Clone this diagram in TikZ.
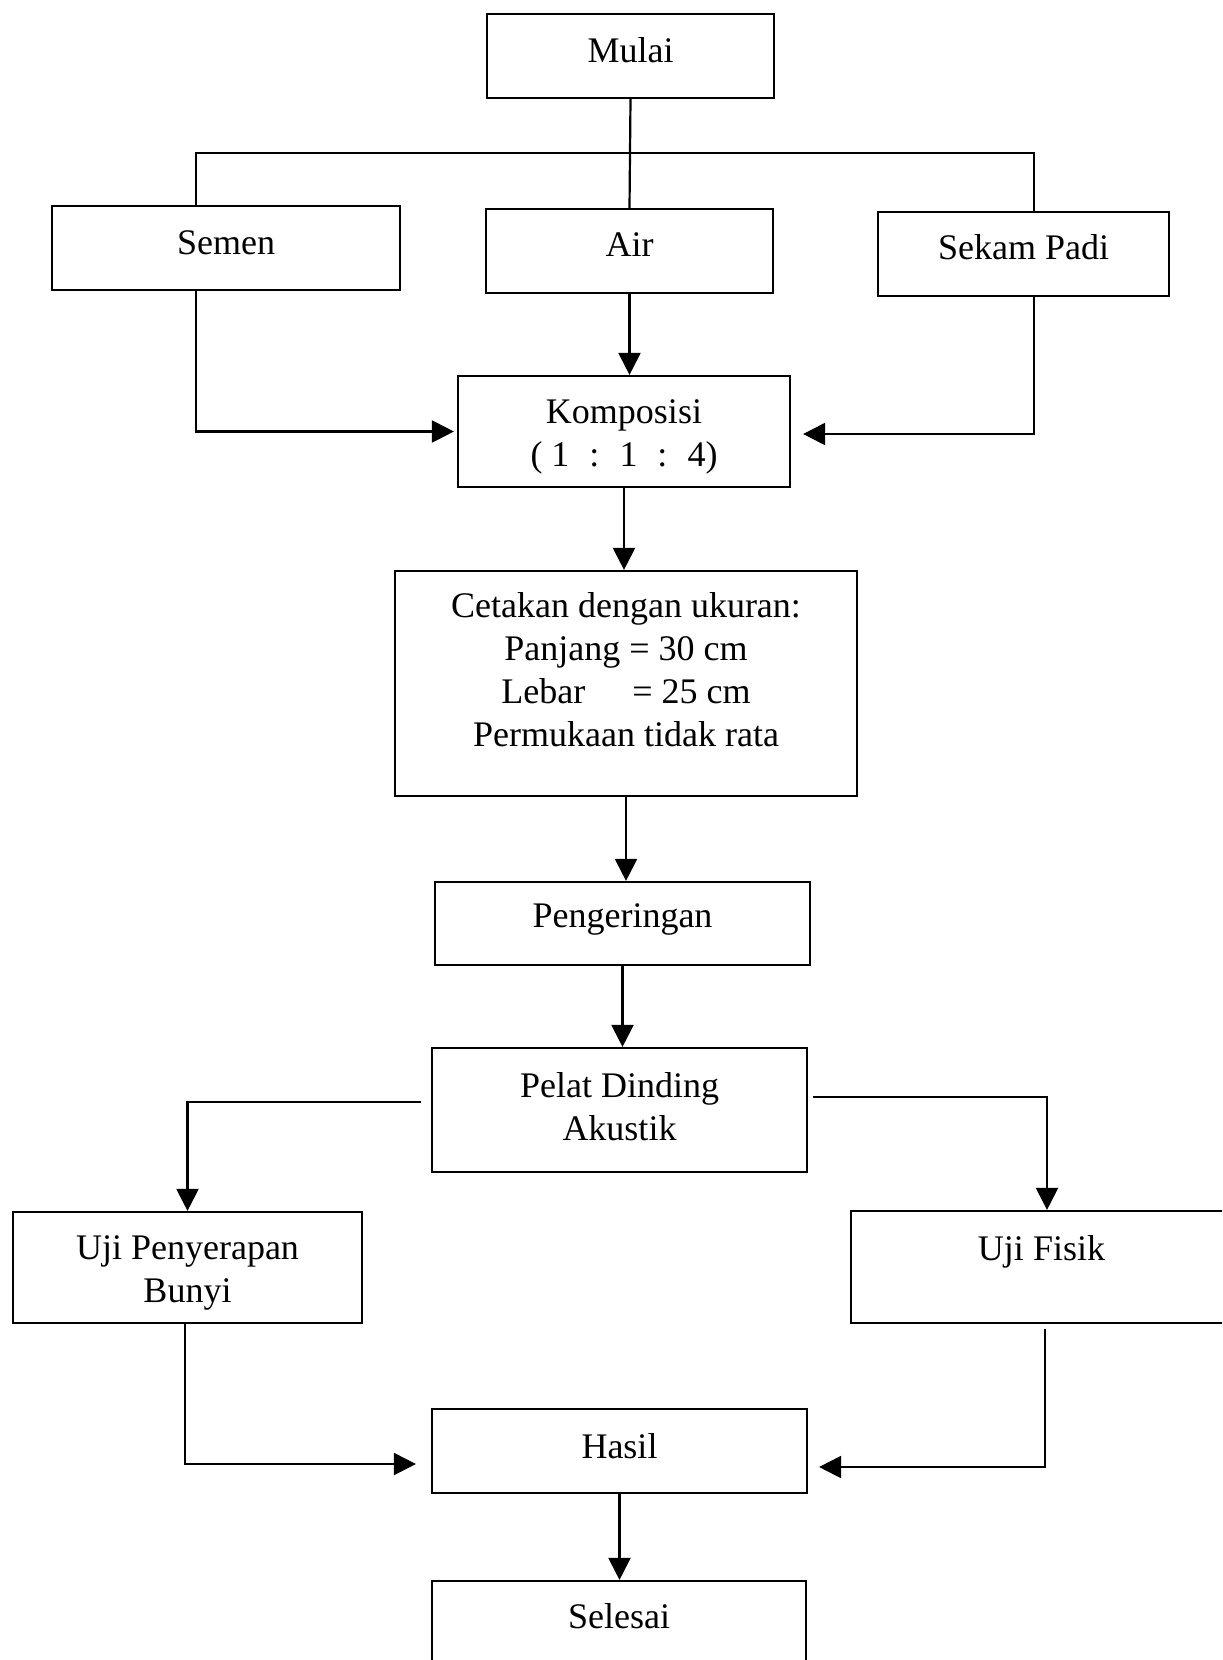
\documentclass[tikz,border=0pt]{standalone}
\usepackage{fontspec}
\setmainfont{Liberation Serif}
\usetikzlibrary{arrows.meta}
\begin{document}
\begin{tikzpicture}[x=0.5pt,y=-0.5pt,
  box/.style={draw, line width=1.1pt, align=center, inner sep=0pt,
    font=\fontsize{18pt}{21.5pt}\selectfont},
  conn/.style={line width=1.1pt},
  arr/.style={line width=1.1pt, -{Triangle[width=11pt,length=11pt]}}]
\useasboundingbox (0,0) rectangle (1222,1660);
\clip (0,0) rectangle (1222,1660);
\fill[white] (0,0) rectangle (1222,1660);

\node[box, minimum width=143.5pt, minimum height=42pt, text depth=6.4pt] (mulai) at (630.5,56) {Mulai};
\node[box, minimum width=174pt, minimum height=42pt, text depth=5.9pt] (semen) at (226,248) {Semen};
\node[box, minimum width=143.5pt, minimum height=42pt, text depth=6pt] (air) at (629.5,251) {Air};
\node[box, minimum width=145.5pt, minimum height=42pt, text depth=7.4pt] (sekam) at (1023.5,254) {Sekam Padi};
\node[box, minimum width=166pt, minimum height=55.5pt] (kompos) at (624,431.5)
  {\mbox{}\\[-4.3pt]Komposisi\\(\hspace{4.5pt}1\hspace{10pt}:\hspace{10pt}1\hspace{10pt}:\hspace{10pt}4)};
\node[box, minimum width=231pt, minimum height=112.5pt] (cetak) at (626,683.5)
  {Cetakan dengan ukuran:\\Panjang = 30 cm\\Lebar\hspace{19pt} = 25 cm\\Permukaan tidak rata\\[-7.5pt]\mbox{}};
\node[box, minimum width=187.5pt, minimum height=41.5pt, text depth=7.7pt] (kering) at (622.5,923.5) {Pengeringan};
\node[box, minimum width=187.5pt, minimum height=62pt] (pelat) at (619.5,1110) {Pelat Dinding\\Akustik\\[-17.8pt]\mbox{}};
\node[box, minimum width=174.5pt, minimum height=55.5pt] (ujip) at (187.5,1267.5) {\mbox{}\\[-3.8pt]Uji Penyerapan\\Bunyi};
\node[box, minimum width=190.5pt, minimum height=56pt, text depth=19.4pt] (ujif) at (1041.5,1267) {Uji Fisik};
\node[box, minimum width=187.5pt, minimum height=42pt, text depth=5.4pt] (hasil) at (619.5,1451) {Hasil};
\node[box, minimum width=187pt, minimum height=42pt, text depth=7.4pt] (selesai) at (619,1623) {Selesai};

% top distribution line
\coordinate (tl) at (196,153);
\coordinate (tr) at (1034,153);
\draw[conn] (mulai.south) -- (air.north);
\draw[conn] (semen.north -| tl) -- (tl) -- (tr) -- (sekam.north -| tr);

% to Komposisi
\draw[arr] (air.south) -- (air.south |- kompos.north);
\draw[arr, shorten >=1.5pt] (semen.south -| tl) |- (kompos.west);
\draw[arr, shorten >=6pt] (sekam.south -| tr) |- ([yshift=-1.25pt]kompos.east);

% main column
\draw[arr] (kompos.south) -- (kompos.south |- cetak.north);
\draw[arr] (cetak.south) -- (cetak.south |- kering.north);
\draw[arr] (kering.south) -- (kering.south |- pelat.north);

% split to tests
\draw[arr] ([shift={(-10,-8)}]pelat.west) -| (ujip.north);
\draw[arr] ([shift={(5,-13)}]pelat.east) -| ([xshift=2.75pt]ujif.north);

% tests to Hasil
\draw[arr, shorten >=7.5pt] (ujip.south -| 185,0) |- ([yshift=-6.5pt]hasil.west);
\draw[arr, shorten >=5.5pt, shorten <=2.5pt] ([xshift=1.75pt]ujif.south) |- ([yshift=-8pt]hasil.east);

\draw[arr] (hasil.south) -- (hasil.south |- selesai.north);
\end{tikzpicture}
\end{document}
